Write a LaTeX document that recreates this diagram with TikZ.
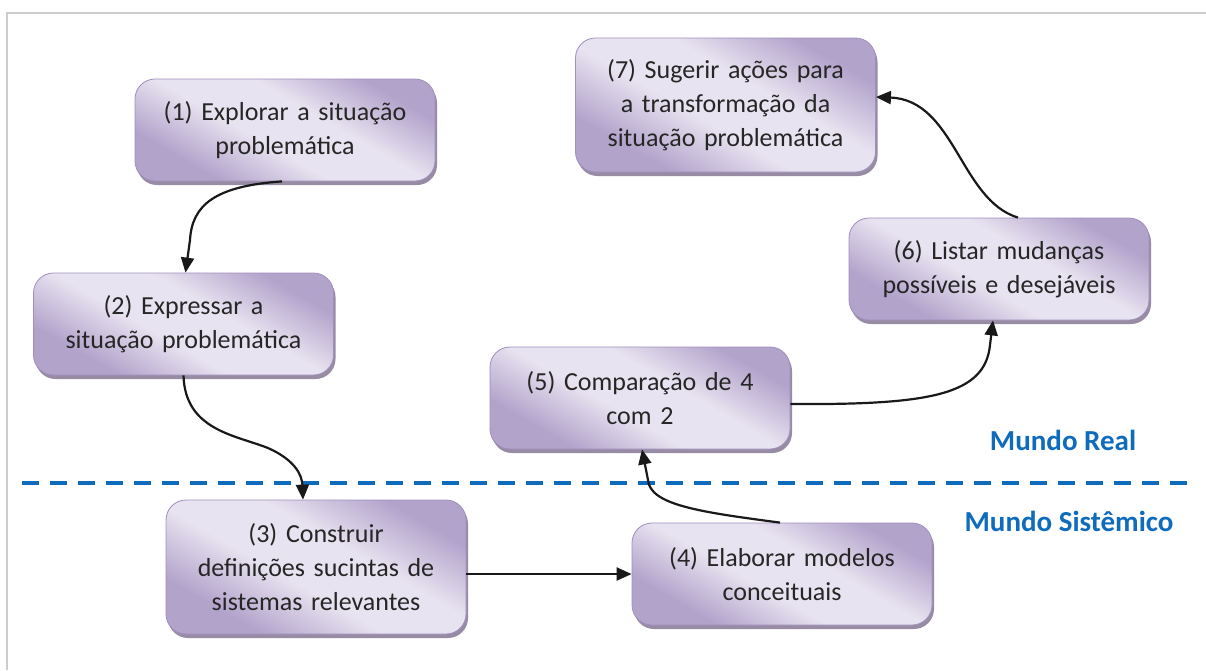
\documentclass[tikz,border=0pt]{standalone}
\usepackage{fontspec}
\setmainfont{Carlito}
\usetikzlibrary{arrows.meta,shadows}
\definecolor{pdark}{HTML}{B2A3CB}
\definecolor{plight}{HTML}{E8E3F0}
\definecolor{pedge}{HTML}{A08FBE}
\definecolor{pshadow}{HTML}{978CA3}
\definecolor{mblue}{HTML}{0F6CBD}
\definecolor{txt}{HTML}{262626}
\definecolor{framec}{HTML}{CCCCCC}
\pgfdeclarehorizontalshading{boxshade}{100bp}{color(0bp)=(pdark); color(28bp)=(pdark); color(44bp)=(plight); color(58bp)=(plight); color(74bp)=(pdark); color(100bp)=(pdark)}
\tikzset{
  stepbox/.style={draw=pedge, line width=0.8pt, rounded corners=20pt,
    shading=boxshade, shading angle=60,
    drop shadow={shadow xshift=2pt, shadow yshift=-4pt, fill=pshadow, opacity=1},
    minimum width=300pt, minimum height=102pt, text width=290pt, align=center,
    font=\fontsize{26}{34}\selectfont, text=txt, inner sep=0pt},
  conn/.style={line width=2.2pt, draw=black!90, -{Triangle[length=15pt,width=13pt]}},
  dashline/.style={mblue, line width=4pt, dash pattern=on 17pt off 11pt},
  zone/.style={mblue, font=\fontsize{29}{34}\selectfont\bfseries},
}
\begin{document}
\begin{tikzpicture}[x=1pt,y=-1pt]
\useasboundingbox (0,0) rectangle (1206,670);
\fill[white] (0,0) rectangle (1206,670);
\coordinate (fb) at (7,670);
\coordinate (ftl) at (7,13);
\coordinate (fr) at (1206,13);
\draw[framec, line width=2pt] (fb) -- (ftl) -- (fr);

\coordinate (dl) at (22,483);
\coordinate (dr) at (1195,483);
\draw[dashline] (dl) -- (dr);

\node[stepbox] (b1) at (285,130) {(1) Explorar a situação\\problemática};
\node[stepbox] (b2) at (183.5,324) {(2) Expressar a\\situação problemática};
\node[stepbox, minimum height=134pt] (b3) at (316,567) {(3) Construir\\definições sucintas de\\sistemas relevantes};
\node[stepbox] (b4) at (782,574) {(4) Elaborar modelos\\conceituais};
\node[stepbox] (b5) at (640,398) {(5) Comparação de 4\\com 2};
\node[stepbox] (b6) at (999,269) {(6) Listar mudanças\\possíveis e desejáveis};
\node[stepbox, minimum height=134pt] (b7) at (725.5,105) {(7) Sugerir ações para\\a transformação da\\situação problemática};

\node[zone] (mr) at (1063,440) {Mundo Real};
\node[zone] (ms) at (1069,521) {Mundo Sistêmico};

\draw[conn] ([xshift=-3pt]b1.south) .. controls (215,186) and (192,205) .. (190,240) -- ([xshift=2pt]b2.north);
\draw[conn] (b2.south) .. controls (185,430) and (235,435) .. (268,448) .. controls (295,460) and (302,475) .. ([xshift=-13pt]b3.north);
\draw[conn] (b3.east |- b4.west) -- (b4.west);
\draw[conn] ([xshift=-2pt]b4.north) .. controls (700,512) and (650,505) .. (648,480) -- ([xshift=2pt]b5.south);
\draw[conn] ([yshift=-6pt]b5.east) .. controls (930,405) and (985,395) .. (990,345) -- ([xshift=-6pt]b6.south);
\draw[conn] ([xshift=19pt]b6.north) .. controls (960,200) and (955,100) .. ([yshift=8pt]b7.east);
\end{tikzpicture}
\end{document}
